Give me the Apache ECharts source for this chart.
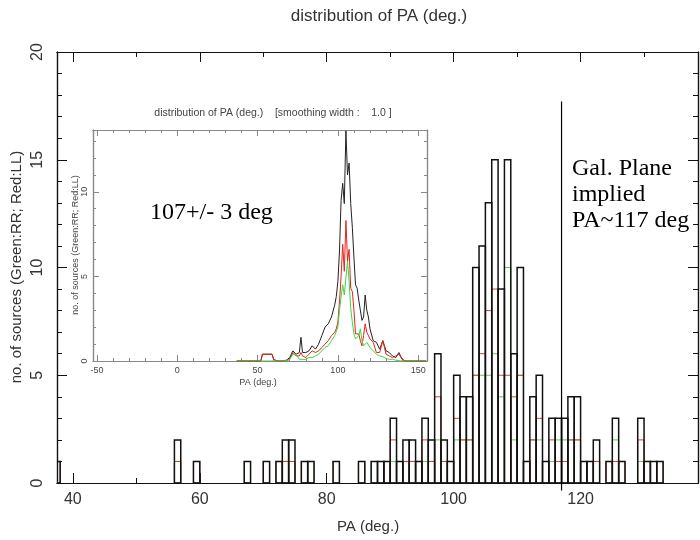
<!DOCTYPE html>
<html>
<head>
<meta charset="utf-8">
<title>distribution of PA (deg.)</title>
<script src="https://cdn.jsdelivr.net/npm/echarts@6.0.0/dist/echarts.min.js"></script>
<style>
  html, body { margin: 0; background: #fff; }
  #chart { width: 700px; height: 540px; }
</style>
</head>
<body>
<div id="chart"></div>
<script>
// main histogram, 1 deg bins: bin start, all sources, LL (red), RR (green)
var binStart = [37, 56, 59, 67, 70, 72, 73, 74, 76, 77, 81, 85, 87, 88, 89, 90, 91, 92, 93, 94, 95, 96, 97, 98, 99,
  100, 101, 102, 103, 104, 105, 106, 107, 108, 109, 110, 111, 112, 113, 114, 115, 116, 117, 118, 119,
  120, 121, 122, 124, 125, 126, 129, 130, 131, 132];
var countAll = [1, 2, 1, 1, 1, 1, 2, 2, 1, 1, 1, 1, 1, 1, 1, 3, 1, 2, 2, 1, 3, 2, 6, 2, 1,
  5, 4, 4, 10, 11, 13, 15, 9, 15, 6, 10, 1, 4, 5, 1, 3, 3, 3, 4, 4,
  1, 1, 2, 1, 3, 1, 3, 1, 1, 1];
var countLL = [1, 1, 1, 0, 1, 1, 1, 1, 1, 0, 1, 1, 0, 1, 1, 2, 0, 1, 1, 1, 2, 1, 4, 1, 0,
  3, 2, 2, 5, 6, 8, 9, 5, 5, 4, 5, 1, 2, 3, 0, 2, 1, 1, 2, 2,
  1, 0, 1, 1, 1, 1, 2, 1, 1, 1];
var countRR = [0, 1, 0, 1, 0, 0, 1, 1, 0, 1, 0, 0, 1, 0, 0, 1, 1, 1, 1, 0, 1, 1, 2, 1, 1,
  2, 2, 2, 5, 5, 5, 6, 4, 10, 2, 5, 0, 2, 2, 1, 1, 2, 2, 2, 2,
  0, 1, 1, 0, 2, 0, 1, 0, 0, 0];
var galPlanePA = 117;

// inset: smoothed distribution (smoothing width 1.0)
var insetPA  = [37, 40, 45, 50, 52, 53, 57, 59, 60, 62, 65, 68, 70, 72, 74, 76, 77, 78, 80, 82, 84, 86, 88, 90, 92, 94, 96, 98, 99,
  100, 101, 102, 103, 104, 105, 106, 107, 108, 109, 110, 111, 112, 113, 114, 115, 116, 117, 118, 119,
  120, 122, 124, 126, 128, 129, 130, 132, 134, 136, 138, 140, 142, 145, 150, 155];
var insetAll = [0, 0, 0, 0, 0, 0.4, 0.4, 0.4, 0.1, 0, 0, 0.05, 0.2, 0.6, 0.4, 0.5, 1.4, 0.5, 0.5, 0.6, 0.9, 0.7, 1.0, 1.5, 2.0, 2.2, 2.6, 3.3, 3.8,
  4.7, 6.5, 9.5, 10.5, 9.3, 13.6, 11.0, 11.7, 9.3, 7.9, 6.1, 4.5, 4.3, 3.6, 3.6, 2.4, 2.6, 3.9, 3.0, 2.6,
  1.9, 1.2, 1.1, 0.7, 1.2, 0.9, 0.6, 0.5, 0.3, 0.2, 0.5, 0.1, 0, 0, 0, 0];
var insetLL  = [0, 0, 0, 0, 0, 0.4, 0.4, 0.4, 0.1, 0, 0, 0.03, 0.1, 0.5, 0.3, 0.3, 0.5, 0.3, 0.2, 0.4, 0.6, 0.5, 0.6, 0.8, 1.0, 1.2, 1.5, 1.7, 1.9,
  2.3, 3.5, 5.0, 6.9, 5.3, 8.3, 5.9, 6.6, 4.3, 4.1, 3.0, 1.6, 1.7, 1.6, 1.2, 0.9, 1.5, 2.2, 1.7, 1.7,
  1.3, 1.1, 0.5, 0.5, 1.2, 0.8, 0.4, 0.3, 0.2, 0.3, 0.4, 0.1, 0, 0, 0, 0];
var insetRR  = [0, 0, 0, 0, 0, 0, 0, 0, 0, 0, 0, 0.02, 0.1, 0.4, 0.4, 0.1, 0.2, 0.1, 0.1, 0.2, 0.2, 0.3, 0.4, 0.6, 0.8, 0.9, 1.2, 1.5, 1.6,
  2.0, 3.0, 3.8, 4.5, 3.9, 4.9, 5.9, 4.7, 3.1, 2.3, 1.6, 1.3, 1.2, 1.5, 1.9, 1.2, 0.9, 1.0, 1.1, 1.0,
  0.8, 0.6, 0.4, 0.3, 0.25, 0.2, 0.15, 0.1, 0.1, 0.05, 0.02, 0, 0, 0, 0, 0];

// tick values
var mainXMajor = [40, 60, 80, 100, 120];
var mainXMinor = [50, 70, 90, 110, 130];
var mainYMajor = [0, 5, 10, 15, 20];
var mainYMinor = [1, 2, 3, 4, 6, 7, 8, 9, 11, 12, 13, 14, 16, 17, 18, 19];
var insetXMajor = [-50, 0, 50, 100, 150];
var insetXMinor = [-40, -30, -20, -10, 10, 20, 30, 40, 60, 70, 80, 90, 110, 120, 130, 140];
var insetYMajor = [0, 5, 10];
var insetYMinor = [1, 2, 3, 4, 6, 7, 8, 9, 11, 12, 13];

var chart = echarts.init(document.getElementById('chart'));

function frameAxis(grid, pos, min, max, ticks, len, color, label) {
  return {
    type: 'value', gridIndex: grid, position: pos, min: min, max: max,
    axisLine: { show: true, onZero: false, lineStyle: { color: color, width: 1.2 } },
    axisTick: { show: true, inside: true, length: len, customValues: ticks, lineStyle: { color: color, width: 1 } },
    axisLabel: label ? Object.assign({ customValues: ticks }, label) : { show: false },
    splitLine: { show: false }
  };
}

function binData(counts) {
  return binStart.map(function (x, i) { return [x, counts[i]]; });
}

function lineData(ys) {
  return insetPA.map(function (x, i) { return [x, ys[i]]; });
}

function histRender(color, width) {
  return function (params, api) {
    var x0 = api.value(0), n = api.value(1);
    var a = api.coord([x0, 0]), b = api.coord([x0 + 1, n]);
    return {
      type: 'rect',
      shape: { x: a[0], y: b[1], width: b[0] - a[0], height: a[1] - b[1] },
      style: { fill: 'none', stroke: color, lineWidth: width }
    };
  };
}

var mainLabel = { fontSize: 16, color: '#333', fontFamily: 'Liberation Sans', margin: 9 };
var mainYLabel = { fontSize: 16, color: '#333', fontFamily: 'Liberation Sans', margin: 11, rotate: 90 };
var insetLabel = { fontSize: 9, color: '#444', fontFamily: 'Liberation Sans', margin: 5 };
var insetYLabel = { fontSize: 9, color: '#444', fontFamily: 'Liberation Sans', margin: 4, rotate: 90 };

var mainBox = { left: 57, top: 52, width: 641, height: 431 };
var insetBox = { left: 93, top: 130, width: 334, height: 231 };

var option = {
  animation: false,
  backgroundColor: '#fff',
  grid: [
    Object.assign({}, mainBox),
    Object.assign({}, mainBox),
    Object.assign({ show: true, backgroundColor: '#fff', borderWidth: 0 }, insetBox),
    Object.assign({}, insetBox)
  ],
  xAxis: [
    frameAxis(0, 'bottom', 37.5, 138.5, mainXMajor, 10, '#111', mainLabel),
    frameAxis(0, 'top', 37.5, 138.5, mainXMajor, 10, '#111'),
    frameAxis(1, 'bottom', 37.5, 138.5, mainXMinor, 5, '#111'),
    frameAxis(1, 'top', 37.5, 138.5, mainXMinor, 5, '#111'),
    frameAxis(2, 'bottom', -52.5, 155.5, insetXMajor, 6, '#888', insetLabel),
    frameAxis(2, 'top', -52.5, 155.5, insetXMajor, 6, '#888'),
    frameAxis(3, 'bottom', -52.5, 155.5, insetXMinor, 3, '#888'),
    frameAxis(3, 'top', -52.5, 155.5, insetXMinor, 3, '#888')
  ],
  yAxis: [
    frameAxis(0, 'left', 0, 20, mainYMajor, 10, '#111', mainYLabel),
    frameAxis(0, 'right', 0, 20, mainYMajor, 10, '#111'),
    frameAxis(1, 'left', 0, 20, mainYMinor, 5, '#111'),
    frameAxis(1, 'right', 0, 20, mainYMinor, 5, '#111'),
    frameAxis(2, 'left', 0, 13.65, insetYMajor, 6, '#888', insetYLabel),
    frameAxis(2, 'right', 0, 13.65, insetYMajor, 6, '#888'),
    frameAxis(3, 'left', 0, 13.65, insetYMinor, 3, '#888'),
    frameAxis(3, 'right', 0, 13.65, insetYMinor, 3, '#888')
  ],
  series: [
    { type: 'custom', name: 'RR', xAxisIndex: 0, yAxisIndex: 0, clip: true, z: 2,
      renderItem: histRender('#5cc85c', 1), data: binData(countRR) },
    { type: 'custom', name: 'LL', xAxisIndex: 0, yAxisIndex: 0, clip: true, z: 3,
      renderItem: histRender('#c8463a', 1), data: binData(countLL) },
    { type: 'custom', name: 'all', xAxisIndex: 0, yAxisIndex: 0, clip: true, z: 4,
      renderItem: histRender('#111', 1.5), data: binData(countAll) },
    { type: 'line', name: 'Gal. Plane', xAxisIndex: 0, yAxisIndex: 0, clip: false, z: 5,
      showSymbol: false, silent: true, lineStyle: { color: '#000', width: 1.2 },
      data: [[galPlanePA, 17.7], [galPlanePA, -0.35]] },
    { type: 'line', name: 'inset all', xAxisIndex: 4, yAxisIndex: 4, showSymbol: false, z: 6,
      lineStyle: { color: '#222', width: 1 }, data: lineData(insetAll) },
    { type: 'line', name: 'inset LL', xAxisIndex: 4, yAxisIndex: 4, showSymbol: false, z: 7,
      lineStyle: { color: '#e3241c', width: 1 }, data: lineData(insetLL) },
    { type: 'line', name: 'inset RR', xAxisIndex: 4, yAxisIndex: 4, showSymbol: false, z: 8,
      lineStyle: { color: '#3fd43f', width: 1 }, data: lineData(insetRR) }
  ],
  graphic: [
    { type: 'text', x: 379, y: 16, z: 100, style: { text: 'distribution of PA (deg.)', font: '17px "Liberation Sans"', fill: '#333', align: 'center', verticalAlign: 'middle' } },
    { type: 'text', x: 368, y: 527, z: 100, style: { text: 'PA (deg.)', font: '15px "Liberation Sans"', fill: '#333', align: 'center', verticalAlign: 'middle' } },
    { type: 'text', x: 17, y: 267, rotation: Math.PI / 2, z: 100, style: { text: 'no. of sources (Green:RR; Red:LL)', font: '15px "Liberation Sans"', fill: '#333', align: 'center', verticalAlign: 'middle' } },
    { type: 'text', x: 150, y: 213, z: 100, style: { text: '107+/- 3 deg', font: '24px "Liberation Serif"', fill: '#000', align: 'left', verticalAlign: 'middle' } },
    { type: 'text', x: 572, y: 156, z: 100, style: { text: 'Gal. Plane\nimplied\nPA~117 deg', font: '24px "Liberation Serif"', lineHeight: 26, fill: '#000', align: 'left', verticalAlign: 'top' } },
    { type: 'text', x: 273, y: 113, z: 100, style: { text: 'distribution of PA (deg.)    [smoothing width :    1.0 ]', font: '10.5px "Liberation Sans"', fill: '#444', align: 'center', verticalAlign: 'middle' } },
    { type: 'text', x: 258, y: 383, z: 100, style: { text: 'PA (deg.)', font: '9px "Liberation Sans"', fill: '#444', align: 'center', verticalAlign: 'middle' } },
    { type: 'text', x: 76, y: 245, rotation: Math.PI / 2, z: 100, style: { text: 'no. of sources (Green:RR; Red:LL)', font: '9px "Liberation Sans"', fill: '#444', align: 'center', verticalAlign: 'middle' } }
  ]
};

chart.setOption(option);
</script>
</body>
</html>
